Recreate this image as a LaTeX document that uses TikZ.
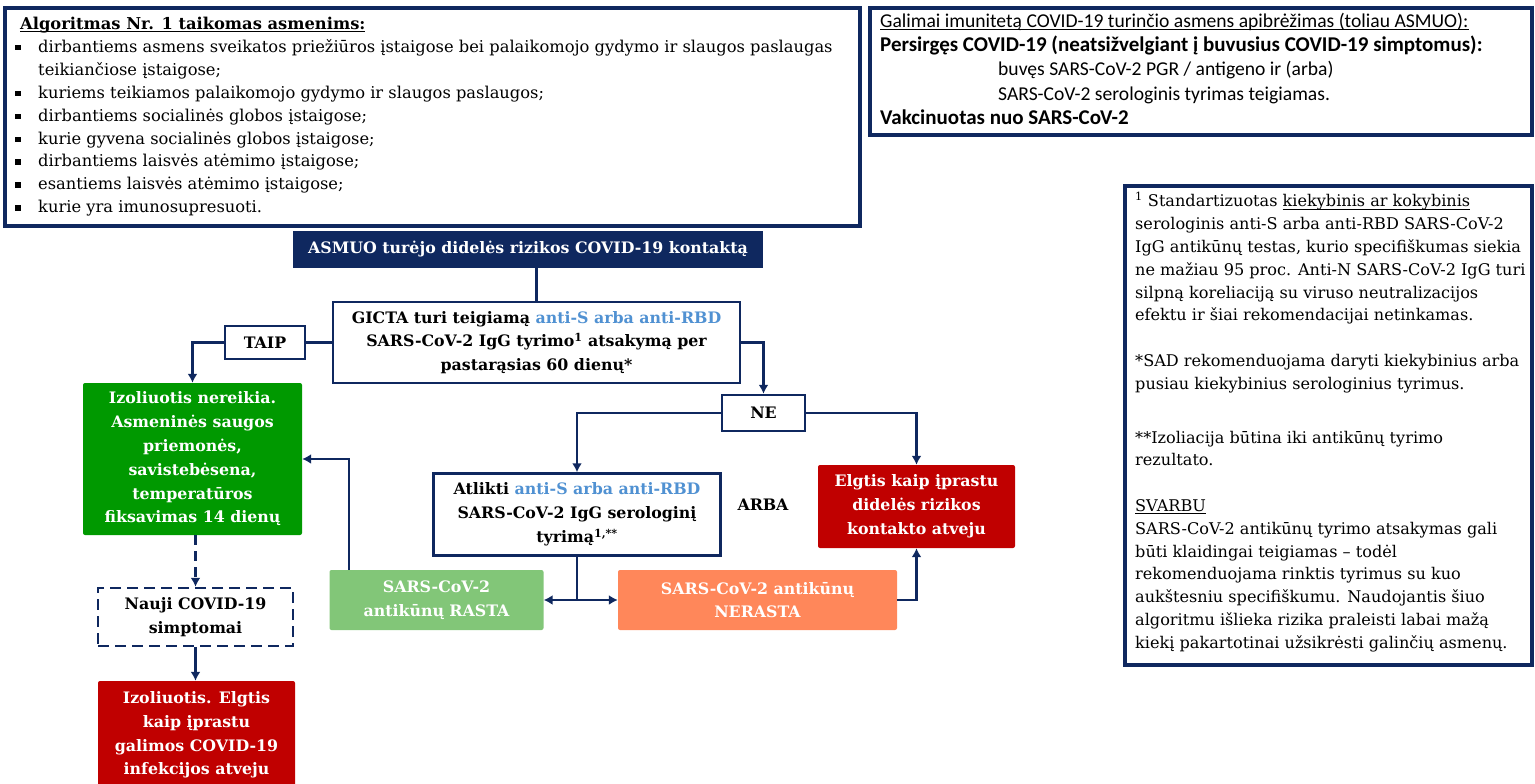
\documentclass[tikz,border=0pt]{standalone}
\usepackage{fontspec}
\setmainfont{DejaVu Serif}
\newfontfamily\calib{Carlito}
\usetikzlibrary{arrows.meta,positioning}
\definecolor{navy}{RGB}{15,40,95}
\definecolor{skyblue}{RGB}{80,145,210}
\definecolor{okgreen}{RGB}{0,153,0}
\definecolor{palegreen}{RGB}{130,198,120}
\definecolor{salmon}{RGB}{255,135,90}
\definecolor{alarm}{RGB}{192,0,0}
\newcommand{\bul}{\makebox[23pt][l]{\rule[2pt]{5.5pt}{5.5pt}}}
\newcommand{\undl}[1]{\setbox0\hbox{#1}\rlap{\rule[-2.6pt]{\wd0}{0.8pt}}\box0}

\begin{document}
\begin{tikzpicture}[x=1pt,y=-1pt,
  frame/.style={draw=navy,line width=3.5pt},
  flow/.style={font=\bfseries\fontsize{15.8}{23.8}\selectfont,align=center,inner sep=2pt},
  outline/.style={flow,draw=navy,line width=2.5pt,fill=white},
  filled/.style={flow,text=white,rounded corners=2pt},
  link/.style={navy,line width=2.6pt,-{Latex[length=9pt,width=10pt]}},
  plain/.style={navy,line width=2.6pt}]
\useasboundingbox (0,0) rectangle (1535,784);

% info boxes
\draw[frame] (5,8) rectangle (860,226);
\node[anchor=north west,align=left,inner sep=0pt,
  font=\fontsize{16.3}{22.9}\selectfont] (scope) at (15,17)
  {\hspace*{5pt}\textbf{\undl{Algoritmas Nr. 1 taikomas asmenims:}}\\
   \bul dirbantiems asmens sveikatos priežiūros įstaigose bei palaikomojo gydymo ir slaugos paslaugas\\
   \hspace*{23pt}teikiančiose įstaigose;\\
   \bul kuriems teikiamos palaikomojo gydymo ir slaugos paslaugos;\\
   \bul dirbantiems socialinės globos įstaigose;\\
   \bul kurie gyvena socialinės globos įstaigose;\\
   \bul dirbantiems laisvės atėmimo įstaigose;\\
   \bul esantiems laisvės atėmimo įstaigose;\\
   \bul kurie yra imunosupresuoti.};

\draw[frame] (870,8) rectangle (1532,135);
\node[anchor=north west,align=left,inner sep=0pt,
  font=\calib\fontsize{19.6}{24.2}\selectfont] (define) at (880,13)
  {\undl{Galimai imunitetą COVID-19 turinčio asmens apibrėžimas (toliau ASMUO):}\\
   {\fontsize{21}{24.2}\selectfont\bfseries Persirgęs COVID-19 (neatsižvelgiant į buvusius COVID-19 simptomus):}\\
   \hspace*{118pt}buvęs SARS-CoV-2 PGR / antigeno ir (arba)\\
   \hspace*{118pt}SARS-CoV-2 serologinis tyrimas teigiamas.\\
   {\fontsize{21}{24.2}\selectfont\bfseries Vakcinuotas nuo SARS-CoV-2}};

\draw[frame] (1125,186) rectangle (1532,665);
\node[anchor=north west,align=left,inner sep=0pt,
  font=\fontsize{16.1}{22.8}\selectfont] (notes) at (1135,192)
  {\textsuperscript{1} Standartizuotas \undl{kiekybinis ar kokybinis}\\
   serologinis anti-S arba anti-RBD SARS-CoV-2\\
   IgG antikūnų testas, kurio specifiškumas siekia\\
   ne mažiau 95 proc. Anti-N SARS-CoV-2 IgG turi\\
   silpną koreliaciją su viruso neutralizacijos\\
   efektu ir šiai rekomendacijai netinkamas.\\[22.8pt]
   *SAD rekomenduojama daryti kiekybinius arba\\
   pusiau kiekybinius serologinius tyrimus.\\[31pt]
   **Izoliacija būtina iki antikūnų tyrimo\\
   rezultato.\\[22.8pt]
   \undl{SVARBU}\\
   SARS-CoV-2 antikūnų tyrimo atsakymas gali\\
   būti klaidingai teigiamas – todėl\\
   rekomenduojama rinktis tyrimus su kuo\\
   aukštesniu specifiškumu. Naudojantis šiuo\\
   algoritmu išlieka rizika praleisti labai mažą\\
   kiekį pakartotinai užsikrėsti galinčių asmenų.};

% flow
\node[filled,fill=navy,rounded corners=0pt,minimum width=470,minimum height=37] (asmuo) at (528,249.5)
  {ASMUO turėjo didelės rizikos COVID-19 kontaktą};
\node[outline,minimum width=407,minimum height=81] (gicta) at (536.5,342.5)
  {GICTA turi teigiamą \textcolor{skyblue}{anti-S arba anti-RBD}\\
   SARS-CoV-2 IgG tyrimo\textsuperscript{1} atsakymą per\\
   pastarąsias 60 dienų*};
\node[outline,minimum width=80,minimum height=33] (taip) at (265,342.5) {TAIP};
\node[filled,fill=okgreen,minimum width=219,minimum height=152] (nereikia) at (192.5,459)
  {Izoliuotis nereikia.\\ Asmeninės saugos\\ priemonės,\\ savistebėsena,\\
   temperatūros\\ fiksavimas 14 dienų};
\node[outline,minimum width=83,minimum height=36] (ne) at (763.5,413) {NE};
\node[outline,minimum width=287,minimum height=82] (atlikti) at (577,514.5)
  {Atlikti \textcolor{skyblue}{anti-S arba anti-RBD}\\
   SARS-CoV-2 IgG serologinį\\ tyrimą\textsuperscript{1,**}};
\node[flow] (arba) at (763,505) {ARBA};
\node[filled,fill=alarm,minimum width=197,minimum height=83] (kontaktas) at (916.5,506.5)
  {Elgtis kaip įprastu\\ didelės rizikos\\ kontakto atveju};
\node[filled,fill=palegreen,minimum width=214,minimum height=60] (rasta) at (436.5,600)
  {SARS-CoV-2\\ antikūnų RASTA};
\node[filled,fill=salmon,minimum width=279,minimum height=60] (nerasta) at (757.5,600)
  {SARS-CoV-2 antikūnų\\ NERASTA};
\node[outline,dashed,dash pattern=on 11pt off 6pt,minimum width=195,minimum height=58] (nauji) at (195.5,617)
  {Nauji COVID-19\\ simptomai};
\node[filled,fill=alarm,minimum width=197,minimum height=108] (izol) at (196.5,735)
  {Izoliuotis. Elgtis\\ kaip įprastu\\ galimos COVID-19\\ infekcijos atveju};

\coordinate (split) at (atlikti.south |- rasta.east);
\coordinate (rastaup) at ([xshift=-87.5]rasta.north);

\draw[plain] (asmuo.south -| gicta.north) -- (gicta.north);
\draw[plain] (gicta.west) -- (taip.east);
\draw[link] (taip.west) -| (nereikia.north);
\draw[link] (gicta.east) -| (ne.north);
\draw[link] (ne.west) -| (atlikti.north);
\draw[link] (ne.east) -| (kontaktas.north);
\draw[plain] (atlikti.south) -- (split);
\draw[link] (split) -- (rasta.east);
\draw[link] (split) -- (nerasta.west);
\draw[link] (nerasta.east) -| (kontaktas.south);
\draw[link] (rastaup) |- (nereikia.east);
\draw[link,dashed,dash pattern=on 10pt off 6pt] (nereikia.south -| nauji.north) -- (nauji.north);
\draw[link] (nauji.south) -- (nauji.south |- izol.north);
\end{tikzpicture}
\end{document}
